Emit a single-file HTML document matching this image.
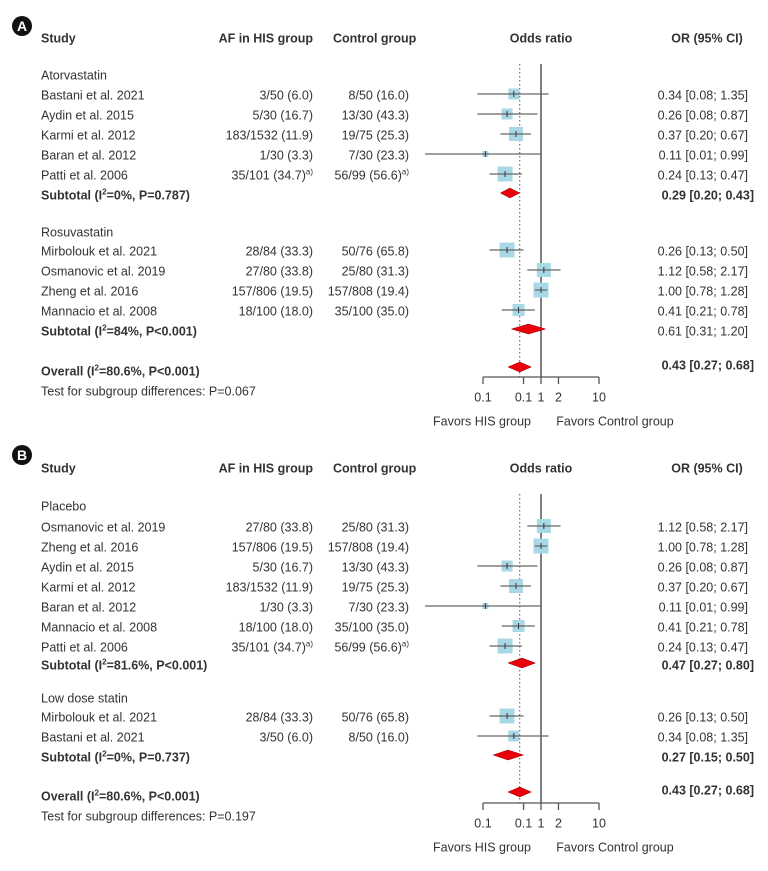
<!DOCTYPE html>
<html><head><meta charset="utf-8"><style>
html,body{margin:0;padding:0;background:#fff;}
svg text{font-family:"Liberation Sans",sans-serif;fill:#333;}
</style></head><body>
<svg id="chart" width="768" height="866" viewBox="0 0 768 866" xmlns="http://www.w3.org/2000/svg"></svg>
<script>
// ---------- Panel A data ----------
const aStudies = ["Bastani et al. 2021","Aydin et al. 2015","Karmi et al. 2012","Baran et al. 2012","Patti et al. 2006","Mirbolouk et al. 2021","Osmanovic et al. 2019","Zheng et al. 2016","Mannacio et al. 2008"];
const aHis = ["3/50 (6.0)","5/30 (16.7)","183/1532 (11.9)","1/30 (3.3)","35/101 (34.7)","28/84 (33.3)","27/80 (33.8)","157/806 (19.5)","18/100 (18.0)"];
const aCtrl = ["8/50 (16.0)","13/30 (43.3)","19/75 (25.3)","7/30 (23.3)","56/99 (56.6)","50/76 (65.8)","25/80 (31.3)","157/808 (19.4)","35/100 (35.0)"];
const aOR = [0.34,0.26,0.37,0.11,0.24,0.26,1.12,1.00,0.41];
const aLo = [0.08,0.08,0.20,0.01,0.13,0.13,0.58,0.78,0.21];
const aHi = [1.35,0.87,0.67,0.99,0.47,0.50,2.17,1.28,0.78];
const aWeight = [11,11,14,6,15,15,14,15,12];
const aSubOR = [0.29,0.61]; const aSubLo=[0.20,0.31]; const aSubHi=[0.43,1.20];
const aSubLabel = ["0%, P=0.787","84%, P<0.001"];
const aSubBold = [true,false];
// ---------- Panel B data ----------
const bStudies = ["Osmanovic et al. 2019","Zheng et al. 2016","Aydin et al. 2015","Karmi et al. 2012","Baran et al. 2012","Mannacio et al. 2008","Patti et al. 2006","Mirbolouk et al. 2021","Bastani et al. 2021"];
const bHis = ["27/80 (33.8)","157/806 (19.5)","5/30 (16.7)","183/1532 (11.9)","1/30 (3.3)","18/100 (18.0)","35/101 (34.7)","28/84 (33.3)","3/50 (6.0)"];
const bCtrl = ["25/80 (31.3)","157/808 (19.4)","13/30 (43.3)","19/75 (25.3)","7/30 (23.3)","35/100 (35.0)","56/99 (56.6)","50/76 (65.8)","8/50 (16.0)"];
const bOR = [1.12,1.00,0.26,0.37,0.11,0.41,0.24,0.26,0.34];
const bLo = [0.58,0.78,0.08,0.20,0.01,0.21,0.13,0.13,0.08];
const bHi = [2.17,1.28,0.87,0.67,0.99,0.78,0.47,0.50,1.35];
const bWeight = [14,15,11,14,6,12,15,15,11];
const bSubOR=[0.47,0.27]; const bSubLo=[0.27,0.15]; const bSubHi=[0.80,0.50];
const bSubLabel=["81.6%, P<0.001","0%, P=0.737"];
const bSubBold=[true,true];
const overallOR=0.43, overallLo=0.27, overallHi=0.68;
const tickValues=[0.1,0.5,1,2,10];
const tickLabels=["0.1","0.1","1","2","10"];

const NS="http://www.w3.org/2000/svg";
const svg=document.getElementById('chart');
function x(v){return 541+58*Math.log10(v);}
function mk(tag,attrs,parent){const e=document.createElementNS(NS,tag);for(const k in attrs)e.setAttribute(k,attrs[k]);(parent||svg).appendChild(e);return e;}
function txt(s,xx,yc,opt,parent){opt=opt||{};const t=mk('text',{x:xx,y:yc+4.5,'font-size':opt.size||12.5,'text-anchor':opt.anchor||'start','font-weight':opt.bold?'bold':'normal'},parent);t.textContent=s;return t;}
function fmt(v){return v.toFixed(2);}
function supText(parts,xx,yc,opt,parent){const t=txt('',xx,yc,opt,parent);parts.forEach(p=>{const ts=document.createElementNS(NS,'tspan');if(p[1]){ts.setAttribute('dy','-5');ts.setAttribute('font-size','8');}else if(p[2]){ts.setAttribute('dy','5');}ts.textContent=p[0];t.appendChild(ts);});return t;}

function panel(cfg){
  const g=mk('g',{});
  
  
  const badge=mk('g',{},g);
  
  
  mk('circle',{cx:22,cy:cfg.badgeY,r:10,fill:'#111'},badge);
  const bt=mk('text',{x:22,y:cfg.badgeY+5,'font-size':14,'font-weight':'bold','text-anchor':'middle',style:'fill:#fff'},badge);bt.textContent=cfg.letter;
  const hy=cfg.headY;
  let h;
  h=txt('Study',41,hy,{bold:true},g);
  h=txt('AF in HIS group',313,hy,{bold:true,anchor:'end'},g);
  h=txt('Control group',333,hy,{bold:true},g);
  h=txt('Odds ratio',541,hy,{bold:true,anchor:'middle'},g);
  h=txt('OR (95% CI)',707,hy,{bold:true,anchor:'middle'},g);
  // reference lines
  const top=cfg.lineTop, ax=cfg.axisY;
  const ol=mk('line',{x1:x(overallOR),x2:x(overallOR),y1:top,y2:ax,stroke:'#555','stroke-width':1,'stroke-dasharray':'1.5,2.5'},g);
  
  const nl=mk('line',{x1:x(1),x2:x(1),y1:top,y2:ax,stroke:'#555','stroke-width':1.5},g);
  
  // axis
  const axis=mk('g',{},g);
  
  mk('line',{x1:x(tickValues[0]),x2:x(tickValues[tickValues.length-1]),y1:ax,y2:ax,stroke:'#555','stroke-width':1.3},axis);
  tickValues.forEach((v,i)=>{
    mk('line',{x1:x(v),x2:x(v),y1:ax,y2:ax+7,stroke:'#555','stroke-width':1.3},axis);
    const tl=txt(tickLabels[i],x(v),ax+20,{anchor:'middle'},axis);
    
  });
  let f=txt('Favors HIS group',482,ax+44,{anchor:'middle'},g);
  f=txt('Favors Control group',615,ax+44,{anchor:'middle'},g);
  // groups
  cfg.groups.forEach((grp,gi)=>{
    const gl=txt(grp.title,41,grp.titleY,{},g);
    
    grp.idx.forEach((si,k)=>{
      const y=grp.firstY+k*20;
      const row=mk('g',{},g);
      
      txt(cfg.studies[si],41,y,{},row);
      if(cfg.studies[si].startsWith('Patti')){
        supText([[cfg.his[si]],['a)',true]],313,y,{anchor:'end'},row);
        supText([[cfg.ctrl[si]],['a)',true]],409,y,{anchor:'end'},row);
      } else {
        txt(cfg.his[si],313,y,{anchor:'end'},row);
        txt(cfg.ctrl[si],409,y,{anchor:'end'},row);
      }
      txt(fmt(cfg.or[si])+' ['+fmt(cfg.lo[si])+'; '+fmt(cfg.hi[si])+']',748,y,{anchor:'end'},row);
      const my=y-1, w=cfg.w[si];
      const sq=mk('rect',{x:x(cfg.or[si])-w/2,y:my-w/2,width:w,height:w,fill:'#a8d8e6'},row);
      
      const ci=mk('line',{x1:x(cfg.lo[si]),x2:x(cfg.hi[si]),y1:my,y2:my,stroke:'#666','stroke-width':1.2},row);
      
      mk('line',{x1:x(cfg.or[si]),x2:x(cfg.or[si]),y1:my-3,y2:my+3,stroke:'#333','stroke-width':1},row);
    });
    const sy=grp.subY;
    const sr=mk('g',{},g);
    
    supText([['Subtotal (I'],['2',true],['='+cfg.subLabel[gi]+')',false,true]],41,sy,{bold:true},sr);
    txt(fmt(cfg.subOR[gi])+' ['+fmt(cfg.subLo[gi])+'; '+fmt(cfg.subHi[gi])+']',cfg.subBold[gi]?754:748,sy,{anchor:'end',bold:cfg.subBold[gi]},sr);
    const dy=sy-2;
    const d=mk('polygon',{points:[x(cfg.subLo[gi])+','+dy,x(cfg.subOR[gi])+','+(dy-5),x(cfg.subHi[gi])+','+dy,x(cfg.subOR[gi])+','+(dy+5)].join(' '),fill:'#e8000b',stroke:'#900','stroke-width':0.5},sr);
    
  });
  const oy=cfg.overallY;
  const orow=mk('g',{},g);
  
  supText([['Overall (I'],['2',true],['=80.6%, P<0.001)',false,true]],41,oy,{bold:true},orow);
  txt(fmt(overallOR)+' ['+fmt(overallLo)+'; '+fmt(overallHi)+']',754,oy-6,{anchor:'end',bold:true},orow);
  const dy=oy-4;
  const od=mk('polygon',{points:[x(overallLo)+','+dy,x(overallOR)+','+(dy-5),x(overallHi)+','+dy,x(overallOR)+','+(dy+5)].join(' '),fill:'#e8000b',stroke:'#900','stroke-width':0.5},orow);
  
  const tt=txt('Test for subgroup differences: P='+cfg.testP,41,oy+20,{},g);
  
}

panel({name:'panel-a',letter:'A',badgeY:26,headY:38,lineTop:64,axisY:377,overallY:371,testP:'0.067',
  studies:aStudies,his:aHis,ctrl:aCtrl,or:aOR,lo:aLo,hi:aHi,w:aWeight,
  subOR:aSubOR,subLo:aSubLo,subHi:aSubHi,subLabel:aSubLabel,subBold:aSubBold,
  groups:[{title:'Atorvastatin',titleY:75,firstY:95,idx:[0,1,2,3,4],subY:195},
          {title:'Rosuvastatin',titleY:232,firstY:251,idx:[5,6,7,8],subY:331}]});
panel({name:'panel-b',letter:'B',badgeY:455,headY:468,lineTop:494,axisY:803,overallY:796,testP:'0.197',
  studies:bStudies,his:bHis,ctrl:bCtrl,or:bOR,lo:bLo,hi:bHi,w:bWeight,
  subOR:bSubOR,subLo:bSubLo,subHi:bSubHi,subLabel:bSubLabel,subBold:bSubBold,
  groups:[{title:'Placebo',titleY:506,firstY:527,idx:[0,1,2,3,4,5,6],subY:665},
          {title:'Low dose statin',titleY:698,firstY:717,idx:[7,8],subY:757}]});
</script>
</body></html>
